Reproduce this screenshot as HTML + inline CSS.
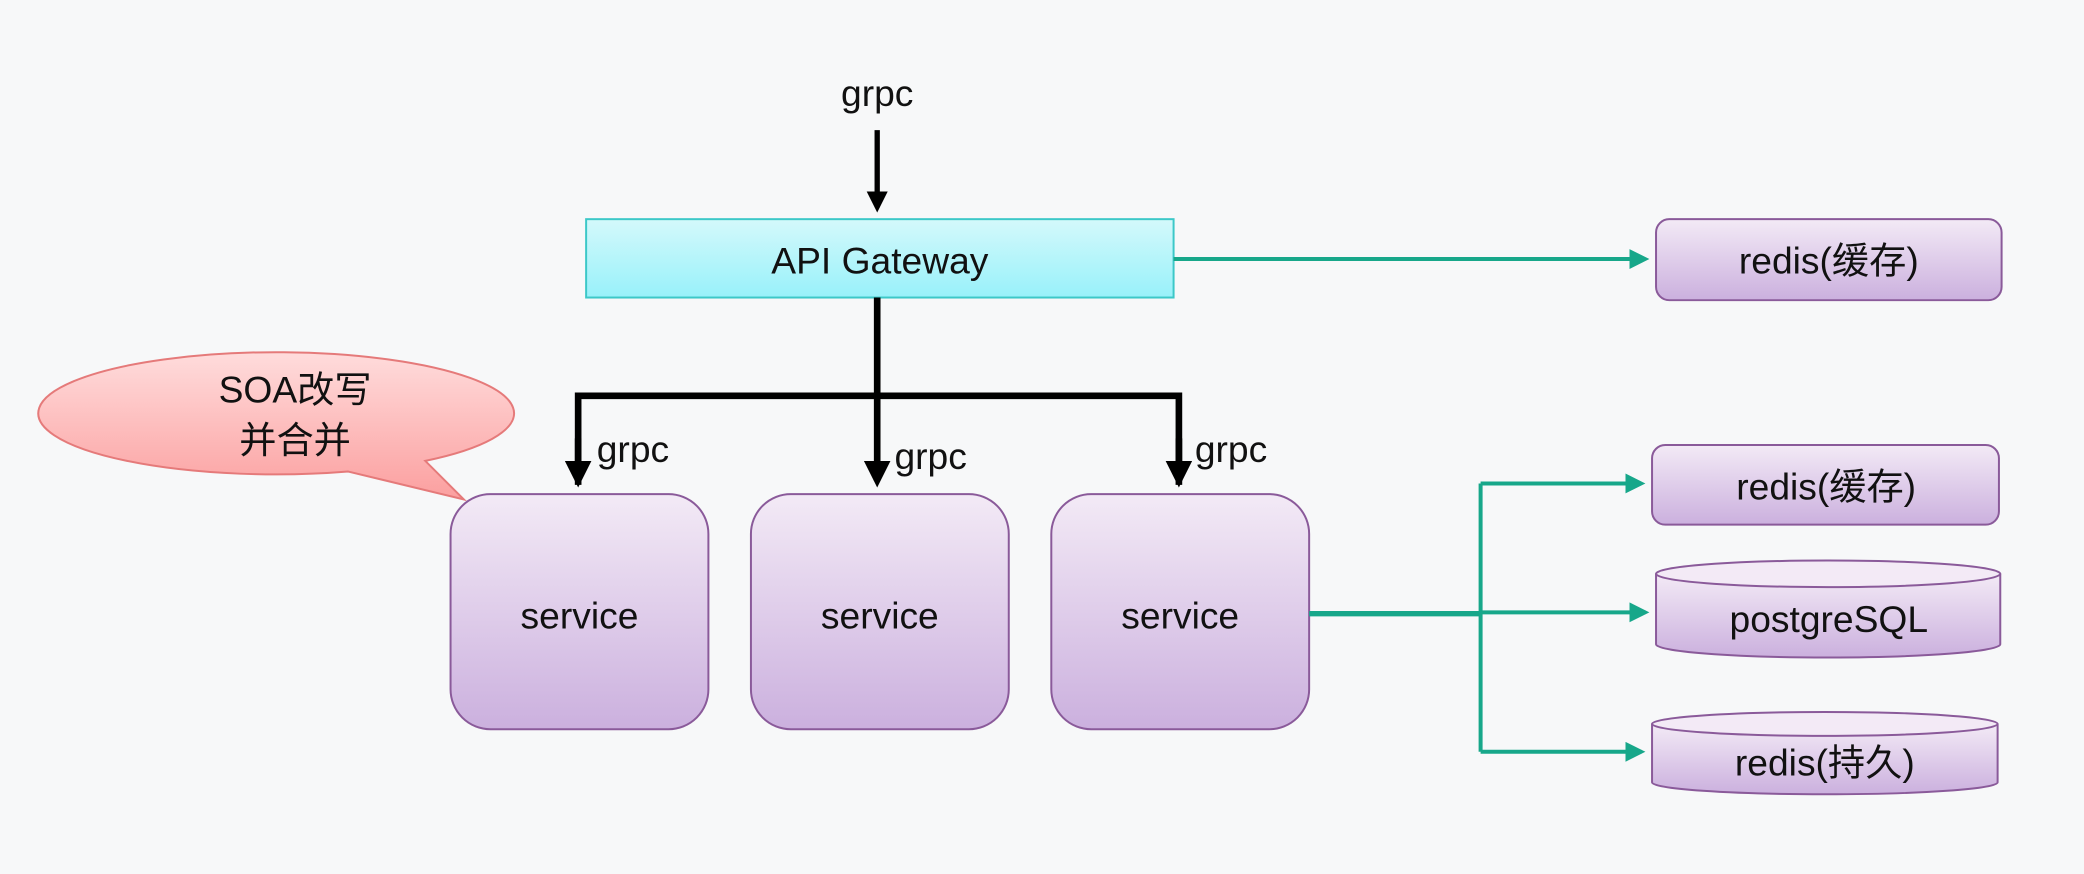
<!DOCTYPE html>
<html><head><meta charset="utf-8"><style>
html,body{margin:0;padding:0;background:#f7f8f9;}
svg{display:block}
text{font-family:"Liberation Sans","Noto Sans CJK SC",sans-serif;fill:#111;}
</style></head><body>
<svg width="2084" height="874" viewBox="0 0 1568 658" preserveAspectRatio="none">
<defs>
<linearGradient id="cy" x1="0" y1="0" x2="0" y2="1"><stop offset="0" stop-color="#d4f9fb"/><stop offset="1" stop-color="#98f1fa"/></linearGradient>
<linearGradient id="pu" x1="0" y1="0" x2="0" y2="1"><stop offset="0" stop-color="#f3eaf6"/><stop offset="1" stop-color="#cbb0de"/></linearGradient>
<linearGradient id="pk" x1="0" y1="0" x2="0" y2="1"><stop offset="0" stop-color="#ffdcdc"/><stop offset="1" stop-color="#fb9f9f"/></linearGradient>
<marker id="ab" markerWidth="4" markerHeight="4" refX="3" refY="2" orient="auto"><path d="M0,0 L4,2 L0,4 z" fill="#000"/></marker>
<marker id="ag" markerWidth="5" markerHeight="5" refX="4" refY="2.5" orient="auto"><path d="M0,0 L5,2.5 L0,5 z" fill="#17a78a"/></marker>
</defs>
<rect width="1568" height="658" fill="#f7f8f9"/>
<!-- callout -->
<path d="M262,355 L349,376 L320,347 A179,46 0 1 0 262,355 z" fill="url(#pk)" stroke="#e57a7a" stroke-width="1.5"/>
<text x="222" y="303" font-size="28" text-anchor="middle">SOA改写</text>
<text x="222" y="341" font-size="28" text-anchor="middle">并合并</text>
<!-- top grpc -->
<text x="660" y="80" font-size="28" text-anchor="middle">grpc</text>
<line x1="660" y1="98" x2="660" y2="156" stroke="#000" stroke-width="4" marker-end="url(#ab)"/>
<rect x="441" y="165" width="442" height="59" fill="url(#cy)" stroke="#3cc8c8" stroke-width="1.5"/>
<text x="662" y="206" font-size="28" text-anchor="middle">API Gateway</text>
<!-- black tree -->
<line x1="660" y1="224" x2="660" y2="298" stroke="#000" stroke-width="5"/>
<polyline points="435,365 435,298 887,298 887,365" fill="none" stroke="#000" stroke-width="5"/>
<line x1="435" y1="330" x2="435" y2="362" stroke="#000" stroke-width="5" marker-end="url(#ab)"/>
<line x1="660" y1="298" x2="660" y2="362" stroke="#000" stroke-width="5" marker-end="url(#ab)"/>
<line x1="887" y1="330" x2="887" y2="362" stroke="#000" stroke-width="5" marker-end="url(#ab)"/>
<text x="449" y="348" font-size="28">grpc</text>
<text x="673" y="353" font-size="28">grpc</text>
<text x="899" y="348" font-size="28">grpc</text>
<!-- services -->
<rect x="339" y="372" width="194" height="177" rx="30" fill="url(#pu)" stroke="#8a5a9a" stroke-width="1.5"/>
<rect x="565" y="372" width="194" height="177" rx="30" fill="url(#pu)" stroke="#8a5a9a" stroke-width="1.5"/>
<rect x="791" y="372" width="194" height="177" rx="30" fill="url(#pu)" stroke="#8a5a9a" stroke-width="1.5"/>
<text x="436" y="473" font-size="28" text-anchor="middle">service</text>
<text x="662" y="473" font-size="28" text-anchor="middle">service</text>
<text x="888" y="473" font-size="28" text-anchor="middle">service</text>
<!-- green -->
<line x1="883" y1="195" x2="1238" y2="195" stroke="#17a78a" stroke-width="3" marker-end="url(#ag)"/>
<line x1="985" y1="462" x2="1114" y2="462" stroke="#17a78a" stroke-width="4"/>
<line x1="1114" y1="364" x2="1114" y2="566" stroke="#17a78a" stroke-width="3"/>
<line x1="1114" y1="364" x2="1235" y2="364" stroke="#17a78a" stroke-width="3" marker-end="url(#ag)"/>
<line x1="1114" y1="461" x2="1238" y2="461" stroke="#17a78a" stroke-width="3" marker-end="url(#ag)"/>
<line x1="1114" y1="566" x2="1235" y2="566" stroke="#17a78a" stroke-width="3" marker-end="url(#ag)"/>
<!-- right boxes -->
<rect x="1246" y="165" width="260" height="61" rx="10" fill="url(#pu)" stroke="#8a5a9a" stroke-width="1.5"/>
<text x="1376" y="206" font-size="28" text-anchor="middle">redis(缓存)</text>
<rect x="1243" y="335" width="261" height="60" rx="10" fill="url(#pu)" stroke="#8a5a9a" stroke-width="1.5"/>
<text x="1374" y="376" font-size="28" text-anchor="middle">redis(缓存)</text>
<path d="M1246,432 L1246,485 A129.5,10 0 0 0 1505,485 L1505,432" fill="url(#pu)" stroke="#8a5a9a" stroke-width="1.5"/>
<ellipse cx="1375.5" cy="432" rx="129.5" ry="10" fill="#f3eaf6" stroke="#8a5a9a" stroke-width="1.5"/>
<text x="1376" y="476" font-size="28" text-anchor="middle">postgreSQL</text>
<path d="M1243,545 L1243,589 A130,9 0 0 0 1503,589 L1503,545" fill="url(#pu)" stroke="#8a5a9a" stroke-width="1.5"/>
<ellipse cx="1373" cy="545" rx="130" ry="9" fill="#f3eaf6" stroke="#8a5a9a" stroke-width="1.5"/>
<text x="1373" y="584" font-size="28" text-anchor="middle">redis(持久)</text>
</svg>
</body></html>
